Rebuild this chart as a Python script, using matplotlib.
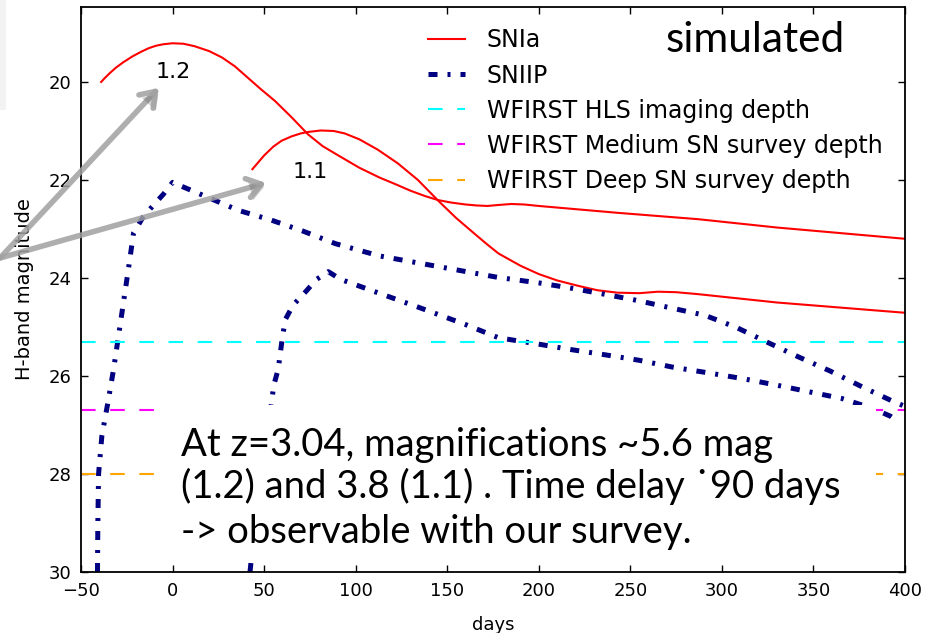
import numpy as np
import matplotlib
matplotlib.use('Agg')
import matplotlib.pyplot as plt
import matplotlib.patheffects as pe
from matplotlib.patches import Rectangle

# light curves (days, H-band magnitude)
snia_12_days = [-39, -37, -34, -31, -27, -22, -17, -13, -9, -5, 0, 6, 12, 20, 27, 34, 41, 48, 56, 65, 74, 82, 91,
                102, 113, 122, 130, 138, 145, 152, 160, 166, 172, 178, 185, 192, 200, 243, 287, 330, 400]
snia_12_mag = [20.0, 19.92, 19.81, 19.71, 19.6, 19.48, 19.38, 19.31, 19.26, 19.23, 19.21, 19.22, 19.27,
               19.37, 19.5, 19.68, 19.91, 20.14, 20.39, 20.72, 21.07, 21.31, 21.51, 21.75, 21.95,
               22.09, 22.22, 22.33, 22.41, 22.46, 22.5, 22.52, 22.53, 22.51, 22.49, 22.5, 22.53,
               22.67, 22.8, 22.97, 23.2]

snia_11_days = [43.6, 50, 55, 59.5, 65, 70, 74, 81, 88, 94, 102, 112, 123, 134, 145, 155, 165,
                172, 178, 190, 200, 210, 221.5, 232, 243, 255, 265, 275, 287, 330, 400]
snia_11_mag = [21.78, 21.5, 21.32, 21.2, 21.11, 21.05, 21.02, 20.99, 21.0, 21.05, 21.17, 21.38,
               21.66, 22.0, 22.42, 22.78, 23.1, 23.32, 23.5, 23.75, 23.92, 24.05, 24.16, 24.25,
               24.3, 24.31, 24.28, 24.29, 24.33, 24.5, 24.71]

sniip_12_days = [-41, -40.8, -40.4, -38.6, -35.3, -32.2, -29.5, -26.7, -24, -21.3, -16, -10.8,
                 -5, 0, 36, 54, 71, 89, 113, 150, 178, 200, 216.5, 235.6, 254, 272, 290.6, 308,
                 325.3, 341.8, 359.2, 376.5, 393, 400]
sniip_12_mag = [30, 29.0, 28.0, 27.22, 26.54, 25.86, 25.18, 24.47, 23.79, 23.08, 22.75, 22.53,
                22.29, 22.05, 22.62, 22.82, 23.04, 23.3, 23.55, 23.8, 23.99, 24.1, 24.2, 24.33,
                24.46, 24.61, 24.76, 25.01, 25.32, 25.61, 25.9, 26.22, 26.51, 26.62]

sniip_11_days = [42.3, 45, 48.5, 51.5, 54.1, 55.2, 57.7, 60.1, 61.7, 65.9, 72.2, 78.6, 85, 91.9,
                 112, 134.5, 160, 178, 199.9, 217.4, 236.6, 254.9, 273.2, 291.5, 310.8, 329,
                 347.3, 365.6, 382.9, 392, 395]
sniip_11_mag = [30, 29.0, 28.0, 27.2, 26.54, 26.2, 25.86, 25.18, 24.84, 24.55, 24.3, 24.03, 23.87,
                24.03, 24.3, 24.6, 24.95, 25.22, 25.35, 25.46, 25.57, 25.68, 25.82, 25.93, 26.05,
                26.18, 26.32, 26.46, 26.67, 26.82, 26.9]

depth_labels = ['WFIRST HLS imaging depth', 'WFIRST Medium SN survey depth', 'WFIRST Deep SN survey depth']
depth_mags = [25.3, 26.7, 28.0]
depth_colors = ['#00ffff', '#ff00ff', '#ffa500']

image_labels = ['1.2', '1.1']
image_label_pos = [(0.4, 19.79), (75, 21.83)]
arrow_tips = [(-7.5, 20.12), (51, 22.06)]

box_lines = ['At z=3.04, magnifications ~5.6 mag',
             '(1.2) and 3.8 (1.1) . Time delay \u02d990 days',
             '-> observable with our survey.']

fig = plt.figure(figsize=(9.25, 6.33), dpi=100)
ax = fig.add_axes([81/925, 1-572/633, 824/925, 565/633])

# grey bit of the slide in the corner
fig.patches.append(Rectangle((0, 1-110/633), 6/925, 110/633, transform=fig.transFigure,
                             facecolor='#f3f3f3', edgecolor='none', zorder=0))

ax.plot(snia_12_days, snia_12_mag, color='red', lw=1.5, label='SNIa')
ax.plot(snia_11_days, snia_11_mag, color='red', lw=1.5)
ax.plot(sniip_12_days, sniip_12_mag, color='#000080', lw=3.6, dashes=(1.8, 2.0, 0.6, 2.0), label='SNIIP')
ax.plot(sniip_11_days, sniip_11_mag, color='#000080', lw=3.6, dashes=(1.8, 2.0, 0.6, 2.0))
for lab, m, c in zip(depth_labels, depth_mags, depth_colors):
    ax.axhline(m, color=c, lw=1.5, dashes=(7, 7), label=lab)

ax.set_xlim(-50, 400)
ax.set_ylim(30, 18.47)
ax.set_xticks(np.arange(-50, 401, 50))
ax.set_yticks(np.arange(20, 31, 2))
ax.tick_params(direction='in', length=5, width=1, top=True, right=True, labelsize=13, pad=7)
for s in ax.spines.values():
    s.set_linewidth(1.3)
ax.set_xlabel('days', fontsize=13, labelpad=12)
ax.set_ylabel('H-band magnitude', fontsize=14, labelpad=10)

ax.legend(loc='upper left', bbox_to_anchor=(0.421, 0.962), frameon=False, fontsize=17,
          handlelength=1.55, handletextpad=0.95, labelspacing=0.47, borderaxespad=0, borderpad=0)

for lab, pos in zip(image_labels, image_label_pos):
    ax.text(pos[0], pos[1], lab, fontsize=16, ha='center', va='center')

for tip in arrow_tips:
    ax.annotate('', xy=tip, xycoords='data', xytext=(0, 1-258/633), textcoords='figure fraction',
                annotation_clip=False,
                arrowprops=dict(arrowstyle='->, head_length=1.0, head_width=0.7', lw=4,
                                color='#a0a0a0', alpha=0.85, shrinkA=0, shrinkB=0, zorder=6,
                                path_effects=[pe.SimplePatchShadow(offset=(2, -2), alpha=0.25), pe.Normal()]))

# white text box pasted over the lower part of the plot
ax.add_patch(Rectangle((0.092, 0.016), 0.873, 0.28, transform=ax.transAxes,
                       facecolor='white', edgecolor='none', zorder=5))
for i, line in enumerate(box_lines):
    ax.text(0.121, [0.2053, 0.131, 0.0522][i], line, transform=ax.transAxes, fontsize=27.5,
            family='Lato', va='baseline', ha='left', zorder=7)

ax.text(0.709, 0.920, 'simulated', transform=ax.transAxes, fontsize=30.5, family='Lato',
        va='baseline', ha='left', zorder=7)

fig.savefig('out.png', dpi=100)
